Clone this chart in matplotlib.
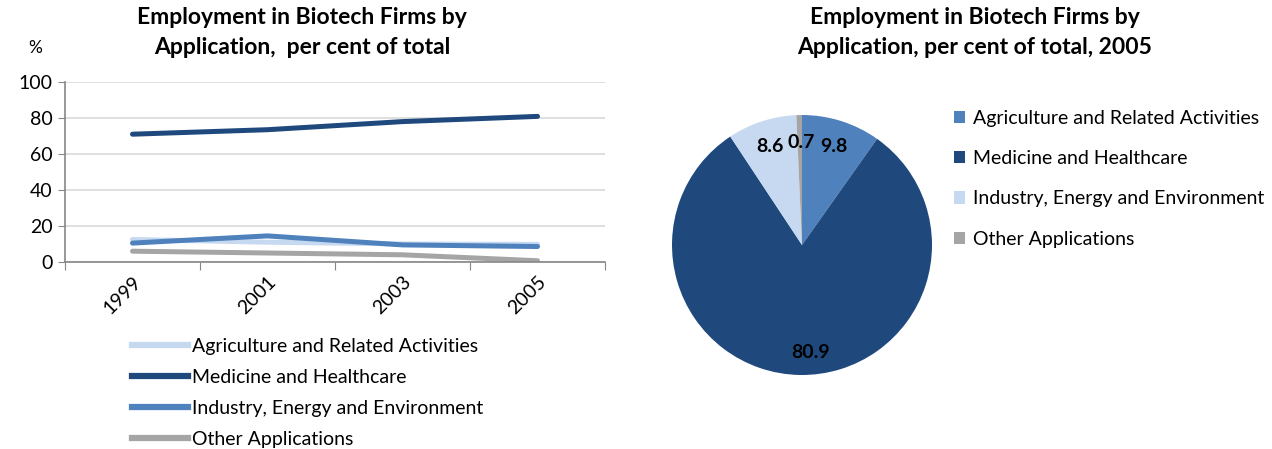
import numpy as np
import matplotlib.pyplot as plt
from matplotlib.lines import Line2D
from matplotlib.patches import Patch

plt.rcParams['font.family'] = ['Lato', 'DejaVu Sans']

# Employment shares by application, per cent of total
years = ['1999', '2001', '2003', '2005']
agriculture = [12.5, 11.0, 10.0, 9.8]
medicine = [71.0, 73.5, 78.0, 80.9]
industry = [10.5, 14.5, 9.5, 8.6]
other = [6.0, 5.0, 4.0, 0.7]

series_names = ['Agriculture and Related Activities', 'Medicine and Healthcare',
                'Industry, Energy and Environment', 'Other Applications']

# 2005 breakdown for the pie
pie_values = [9.8, 80.9, 8.6, 0.7]

light = '#C6D9F1'
dark = '#1F497D'
mid = '#4F81BD'
grey = '#A5A5A5'
axis_grey = '#868686'

W, H = 1272, 449
fig = plt.figure(figsize=(W / 100, H / 100), dpi=100)

# ---- line chart ----
ax = fig.add_axes([65 / W, 1 - 262 / H, 540 / W, 180 / H])
x = np.arange(len(years))
line_colors = [light, dark, mid, grey]
for vals, c in zip([agriculture, medicine, industry, other], line_colors):
    ax.plot(x, vals, color=c, linewidth=3.6, solid_capstyle='round')

ax.set_xlim(-0.5, 3.5)
ax.set_ylim(0, 100)
ax.set_yticks(range(0, 101, 20))
ax.yaxis.grid(True, color='#D9D9D9', linewidth=1.2)
ax.set_axisbelow(True)
ax.set_xticks(np.arange(-0.5, 4, 1))
ax.set_xticklabels([])
ax.set_xticks(x, minor=True)
ax.set_xticklabels(years, minor=True, rotation=45, ha='right', va='top', fontsize=14,
                   rotation_mode='anchor')
ax.tick_params(axis='x', which='minor', length=0, pad=8)
ax.tick_params(axis='x', which='major', length=6, color=axis_grey, direction='out')
ax.tick_params(axis='y', length=5, color=axis_grey, labelsize=14, pad=4)
for side in ['top', 'right']:
    ax.spines[side].set_visible(False)
for side in ['left', 'bottom']:
    ax.spines[side].set_color(axis_grey)
    ax.spines[side].set_linewidth(1.2)

fig.text(302 / W, 1 - 18 / H, 'Employment in Biotech Firms by', ha='center', va='center',
         fontsize=16.5, fontweight='bold')
fig.text(302 / W, 1 - 47 / H, 'Application,  per cent of total', ha='center', va='center',
         fontsize=16.5, fontweight='bold')
fig.text(35 / W, 1 - 48 / H, '%', ha='center', va='center', fontsize=12.5)

handles = [Line2D([0], [0], color=c, linewidth=4.5) for c in line_colors]
fig.legend(handles, series_names, loc='upper left', bbox_to_anchor=(124 / W, 1 - 330 / H),
           frameon=False, fontsize=14, handlelength=2.9, handletextpad=0.2,
           labelspacing=0.72, borderaxespad=0)

# ---- pie chart ----
R = 130
pax = fig.add_axes([(802 - R) / W, 1 - (245 + R) / H, 2 * R / W, 2 * R / H])
pie_colors = [mid, dark, light, grey]
wedges, texts = pax.pie(pie_values, colors=pie_colors, startangle=90, counterclock=False,
                        wedgeprops=dict(linewidth=0))
pax.set_xlim(-1, 1)
pax.set_ylim(-1, 1)
label_pos = [(834, 146), (811, 353), (770, 146), (801, 143)]
for v, (px, py) in zip(pie_values, label_pos):
    fig.text(px / W, 1 - py / H, f'{v:.1f}', ha='center', va='center',
             fontsize=14, fontweight='bold', color='black')

fig.text(975 / W, 1 - 18 / H, 'Employment in Biotech Firms by', ha='center', va='center',
         fontsize=16.5, fontweight='bold')
fig.text(975 / W, 1 - 47 / H, 'Application, per cent of total, 2005', ha='center',
         va='center', fontsize=16.5, fontweight='bold')

pie_handles = [Patch(facecolor=c, edgecolor='none') for c in pie_colors]
fig.legend(pie_handles, series_names, loc='upper left', bbox_to_anchor=(946 / W, 1 - 102 / H),
           frameon=False, fontsize=14, handlelength=0.6, handleheight=0.6, handletextpad=0.4,
           labelspacing=1.2, borderaxespad=0)

fig.savefig('out.png', dpi=100)
